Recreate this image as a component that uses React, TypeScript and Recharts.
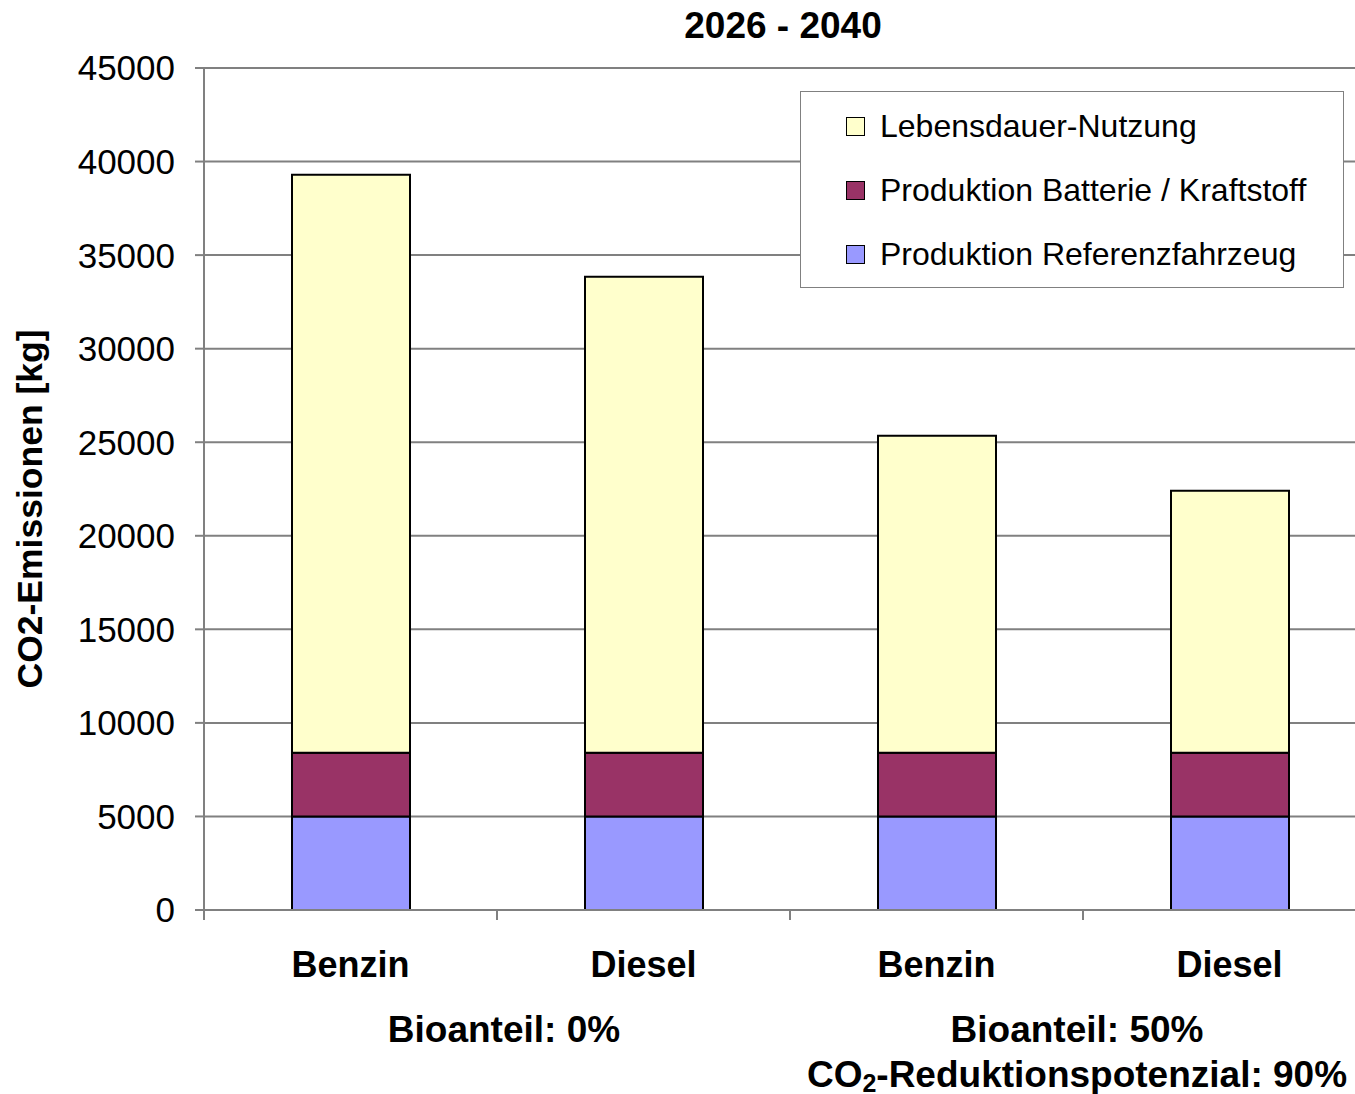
import { BarChart, Bar, XAxis, YAxis, CartesianGrid, Legend } from 'recharts'

const categories = ['Benzin', 'Diesel', 'Benzin', 'Diesel']
const referenzfahrzeug = [5000, 5000, 5000, 5000]
const batterieKraftstoff = [3400, 3400, 3400, 3400]
const lebensdauerNutzung = [30900, 25450, 16950, 14000]
const yTicks = [0, 5000, 10000, 15000, 20000, 25000, 30000, 35000, 40000, 45000]
const groupLabels = [['Bioanteil: 0%'], ['Bioanteil: 50%', 'CO2-Reduktionspotenzial: 90%']]

const series = [
  { key: 'referenz', name: 'Produktion Referenzfahrzeug', color: '#9999FF' },
  { key: 'batterie', name: 'Produktion Batterie / Kraftstoff', color: '#993366' },
  { key: 'nutzung', name: 'Lebensdauer-Nutzung', color: '#FFFFCC' },
]

const data = categories.map((c, i) => ({
  name: c,
  referenz: referenzfahrzeug[i],
  batterie: batterieKraftstoff[i],
  nutzung: lebensdauerNutzung[i],
}))

const FONT = '"Liberation Sans", Arial, sans-serif'
const W = 1389
const H = 1094
const M = { top: 68, right: 13, left: 0, bottom: 0 }
const Y_W = 204
const BAND = (W - M.right - Y_W) / categories.length
// nudge for the two group captions under the axis
const GROUP_SHIFT = [7, -6]

// renders "CO2" with a subscript 2
function GroupLine({ x, y, text }: { x: number; y: number; text: string }) {
  const style = { fontFamily: FONT, fontWeight: 'bold', fontSize: 37, fill: '#000' } as const
  if (text.startsWith('CO2')) {
    return (
      <text x={x} y={y} textAnchor="middle" {...style}>
        <tspan>CO</tspan>
        <tspan dy={5} fontSize={25}>2</tspan>
        <tspan dy={-5}>{text.slice(3)}</tspan>
      </text>
    )
  }
  return (
    <text x={x} y={y} textAnchor="middle" {...style}>
      {text}
    </text>
  )
}

function CategoryTick(props: any) {
  const { x, y, payload, index } = props
  const left = x - BAND / 2
  return (
    <g>
      <line x1={left} y1={y} x2={left} y2={y + 10} stroke="#808080" strokeWidth={2} />
      <text x={x} y={y + 67} textAnchor="middle" fontFamily={FONT} fontWeight="bold" fontSize={36} fill="#000">
        {payload.value}
      </text>
      {index % 2 === 1 &&
        groupLabels[(index - 1) / 2].map((t, k) => (
          <GroupLine key={k} x={left + GROUP_SHIFT[(index - 1) / 2]} y={y + 132 + k * 45} text={t} />
        ))}
    </g>
  )
}

function YLabel() {
  return (
    <text x={42} y={509} transform="rotate(-90, 42, 509)" textAnchor="middle" fontFamily={FONT} fontWeight="bold" fontSize={35.5} fill="#000">
      CO2-Emissionen [kg]
    </text>
  )
}

function LegendBox() {
  return (
    <div style={{ width: 544, height: 197, boxSizing: 'border-box', border: '1.5px solid #808080', background: '#fff', fontFamily: FONT, fontSize: 32, color: '#000', position: 'relative' }}>
      {[...series].reverse().map((s, i) => (
        <div key={s.key} style={{ position: 'absolute', left: 45, top: 23 + i * 64, height: 22, display: 'flex', alignItems: 'center' }}>
          <div style={{ width: 17, height: 17, background: s.color, border: '1.5px solid #000', marginRight: 15 }} />
          <span style={{ lineHeight: '22px', whiteSpace: 'nowrap' }}>{s.name}</span>
        </div>
      ))}
    </div>
  )
}

export default function App() {
  return (
    <div style={{ position: 'absolute', left: 0, top: 0, width: 1355, height: 1094, overflow: 'hidden', background: '#fff' }}>
      <div style={{ position: 'absolute', left: 583, top: 7, width: 400, textAlign: 'center', fontFamily: FONT, fontWeight: 'bold', fontSize: 37, lineHeight: '37px' }}>
        2026 - 2040
      </div>
      <BarChart width={W} height={H} data={data} margin={M} barSize={118}>
        <CartesianGrid vertical={false} stroke="#808080" strokeWidth={2} />
        <XAxis
          dataKey="name"
          height={184}
          tickLine={false}
          tickSize={0}
          tickMargin={0}
          axisLine={{ stroke: '#808080', strokeWidth: 2 }}
          tick={CategoryTick}
          interval={0}
        />
        <YAxis
          width={Y_W}
          domain={[0, 45000]}
          ticks={yTicks}
          interval={0}
          tickSize={9}
          tickMargin={20}
          axisLine={{ stroke: '#808080', strokeWidth: 2 }}
          tickLine={{ stroke: '#808080', strokeWidth: 2 }}
          tick={{ fontFamily: FONT, fontSize: 35, fill: '#000' }}
          label={<YLabel />}
        />
        <Legend
          layout="vertical"
          align="center"
          verticalAlign="middle"
          content={() => <LegendBox />}
          wrapperStyle={{ left: 800, top: 91, width: 544, height: 197 }}
        />
        {series.map(s => (
          <Bar key={s.key} dataKey={s.key} name={s.name} stackId="a" fill={s.color} stroke="#000" strokeWidth={2} isAnimationActive={false} />
        ))}
      </BarChart>
    </div>
  )
}
